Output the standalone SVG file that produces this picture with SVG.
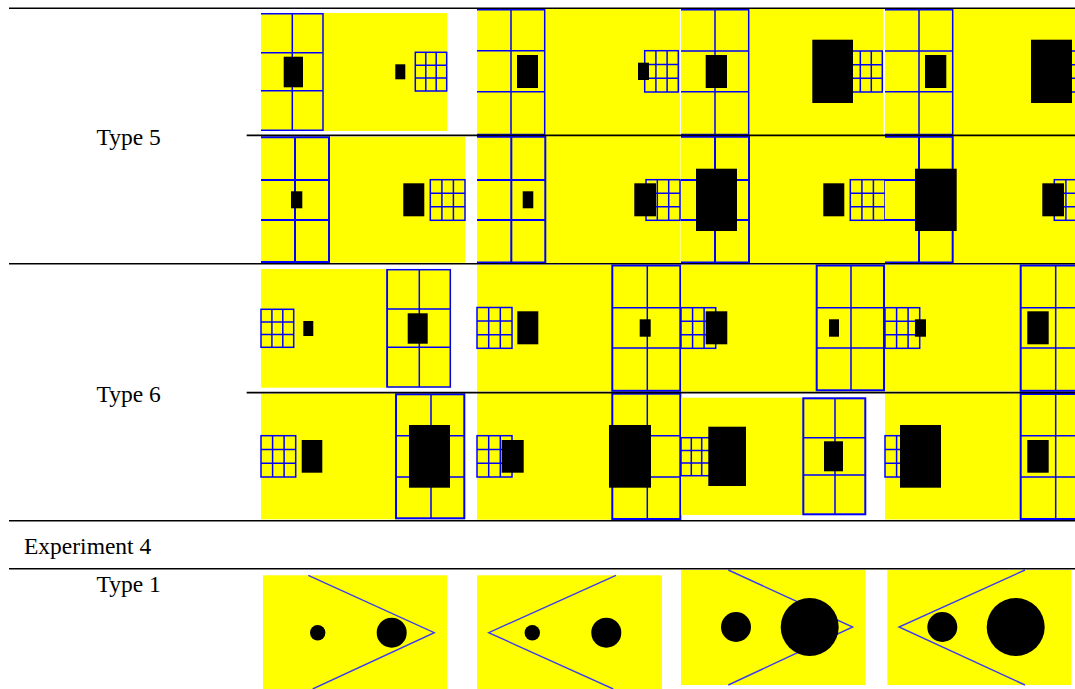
<svg xmlns="http://www.w3.org/2000/svg" width="1075" height="689" viewBox="0 0 1075 689">
<style>
.bg{fill:#ffff00}
.g{fill:none;stroke:#0000ff;stroke-width:1.5}
.gt{fill:none;stroke:#0000ff;stroke-width:2}
.k{fill:#000}
.tri{fill:none;stroke:#3c3cf0;stroke-width:1.4}
.rule{stroke:#000;stroke-width:1.6;fill:none}
.lbl{font-family:"Liberation Serif","Times New Roman",serif;font-size:23.5px;fill:#000}
</style>
<rect width="1075" height="689" fill="#fff"/>

<g id="labels">
<text class="lbl" x="96.5" y="145">Type 5</text>
<text class="lbl" x="96.5" y="401.5">Type 6</text>
<text class="lbl" x="24" y="553.5">Experiment 4</text>
<text class="lbl" x="96.5" y="591.5">Type 1</text>
</g>

<!-- Row 1 -->
<g id="cellA1">
<rect class="bg" x="261" y="13" width="186" height="118"/>
<path class="g" d="M261,13.7H323V130.2H261M292.3,13.7V130.2M261,52.7H323M261,90.7H323"/>
<rect class="g" x="415.3" y="52.3" width="31.4" height="38.7"/>
<path class="g" d="M425.8,52.3V91M436.2,52.3V91M415.3,65.2H446.7M415.3,78.1H446.7"/>
<rect class="k" x="283.7" y="56.7" width="19.3" height="30.6"/>
<rect class="k" x="395.3" y="64.3" width="10" height="15"/>
</g>
<g id="cellA2">
<rect class="bg" x="477" y="9" width="203" height="126"/>
<path class="g" d="M477,9.7H544.7V134.5H477M511,9.7V134.5M477,50.7H544.7M477,91.7H544.7"/>
<rect class="g" x="644.7" y="50.7" width="33.6" height="41.3"/>
<path class="g" d="M655.9,50.7V92M667.1,50.7V92M644.7,64.5H678.3M644.7,78.2H678.3"/>
<rect class="k" x="517" y="55" width="21" height="33"/>
<rect class="k" x="638" y="62.7" width="11" height="17.3"/>
</g>
<g id="cellA3">
<rect class="bg" x="681" y="9" width="202.3" height="126"/>
<path class="g" d="M681,9.7H748.7V134.5H681M715,9.7V134.5M681,51H748.7M681,91.7H748.7"/>
<rect class="g" x="849.3" y="51" width="33" height="41"/>
<path class="g" d="M860.3,51V92M871.3,51V92M849.3,64.7H882.3M849.3,78.3H882.3"/>
<rect class="k" x="705.7" y="55" width="21.3" height="33"/>
<rect class="k" x="812.3" y="39.7" width="40.7" height="63.3"/>
</g>
<g id="cellA4">
<rect class="bg" x="885" y="9" width="190" height="126"/>
<path class="g" d="M885,9.7H952.7V134.5H885M919,9.7V134.5M885,51H952.7M885,91.7H952.7"/>
<rect class="g" x="1068" y="51" width="33" height="41"/>
<path class="g" d="M1068,64.7H1101M1068,78.3H1101"/>
<rect class="k" x="925" y="55" width="21.3" height="33"/>
<rect class="k" x="1031" y="39.7" width="41" height="63.3"/>
</g>

<!-- Row 2 -->
<g id="cellB1">
<rect class="bg" x="261" y="136.7" width="204" height="126"/>
<path class="gt" d="M261,137.3H329V262H261M295,137.3V262M261,180H329M261,220H329"/>
<rect class="g" x="430.3" y="179.7" width="34.7" height="40.6"/>
<path class="g" d="M441.9,179.7V220.3M453.4,179.7V220.3M430.3,193.2H465M430.3,206.8H465"/>
<rect class="k" x="291" y="191.3" width="11.3" height="17"/>
<rect class="k" x="403.3" y="183.3" width="21" height="33"/>
</g>
<g id="cellB2">
<rect class="bg" x="477" y="136" width="203.5" height="127.3"/>
<path class="gt" d="M477,136.8H545.3V262.5H477M511.3,136.8V262.5M477,180H545.3M477,220H545.3"/>
<rect class="g" x="646" y="179.7" width="34" height="40.6"/>
<path class="g" d="M657.3,179.7V220.3M668.7,179.7V220.3M646,193.2H680M646,206.8H680"/>
<rect class="k" x="522.7" y="191.3" width="10.6" height="17"/>
<rect class="k" x="634.3" y="183.3" width="21.7" height="33"/>
</g>
<g id="cellB3">
<rect class="bg" x="681" y="136" width="204" height="127.3"/>
<path class="gt" d="M681,136.8H749V262.5H681M715,136.8V262.5M681,180H749M681,220H749"/>
<rect class="g" x="850.3" y="179.7" width="34.7" height="40.6"/>
<path class="g" d="M861.9,179.7V220.3M873.4,179.7V220.3M850.3,193.2H885M850.3,206.8H885"/>
<rect class="k" x="696" y="168.7" width="41" height="62.3"/>
<rect class="k" x="823.3" y="183.3" width="21" height="33"/>
</g>
<g id="cellB4">
<rect class="bg" x="885" y="136" width="190" height="127.3"/>
<path class="gt" d="M885,136.8H952.7V262.5H885M919,136.8V262.5M885,180H952.7M885,220H952.7"/>
<rect class="g" x="1054.3" y="179.7" width="34.7" height="40.6"/>
<path class="g" d="M1065.9,179.7V220.3M1054.3,193.2H1089M1054.3,206.8H1089"/>
<rect class="k" x="915" y="168.7" width="41.7" height="62.3"/>
<rect class="k" x="1042.3" y="183.3" width="21.7" height="33"/>
</g>

<!-- Row 3 -->
<g id="cellC1">
<rect class="bg" x="261" y="269" width="190" height="118.7"/>
<rect class="g" x="261" y="309.3" width="32.7" height="38"/>
<path class="g" d="M271.9,309.3V347.3M282.8,309.3V347.3M261,322H293.7M261,334.6H293.7"/>
<rect class="g" x="387" y="269.7" width="63.3" height="117.3"/>
<path class="g" d="M387.3,269.7V387M419.3,269.7V387M387,309H450.3M387,347.3H450.3"/>
<rect class="k" x="303.3" y="321" width="10" height="15"/>
<rect class="k" x="407.7" y="313.3" width="20" height="30.4"/>
</g>
<g id="cellC2">
<rect class="bg" x="477" y="265" width="203.7" height="126.5"/>
<rect class="g" x="477" y="307.5" width="35" height="40.8"/>
<path class="g" d="M488.7,307.5V348.3M500.3,307.5V348.3M477,321.1H512M477,334.7H512"/>
<rect class="k" x="517.3" y="311.3" width="21" height="33"/>
<rect class="gt" x="612.3" y="265.5" width="68" height="125.3"/>
<path class="g" d="M647.3,265.5V390.8M612.3,307.7H680.3M612.3,348H680.3"/>
<rect class="k" x="639.7" y="319.3" width="11" height="17.4"/>
</g>
<g id="cellC3">
<rect class="bg" x="681" y="265" width="203.3" height="126.5"/>
<rect class="g" x="681" y="307.7" width="34.7" height="40.6"/>
<path class="g" d="M692.6,307.7V348.3M704.1,307.7V348.3M681,321.2H715.7M681,334.8H715.7"/>
<rect class="k" x="705.7" y="311.3" width="21.6" height="33"/>
<rect class="gt" x="816.7" y="265.5" width="67.3" height="124.8"/>
<path class="g" d="M851,265.5V390.3M816.7,307.7H884M816.7,348H884"/>
<rect class="k" x="829" y="319.3" width="10" height="17.4"/>
</g>
<g id="cellC4">
<rect class="bg" x="885" y="265" width="190" height="126.5"/>
<rect class="g" x="885" y="307.7" width="34.7" height="40.6"/>
<path class="g" d="M896.6,307.7V348.3M908.1,307.7V348.3M885,321.2H919.7M885,334.8H919.7"/>
<rect class="k" x="915" y="319.3" width="11" height="17.4"/>
<rect class="gt" x="1020.7" y="265.5" width="70" height="125.3"/>
<path class="g" d="M1055.7,265.5V390.8M1020.7,307.7H1090.7M1020.7,348H1090.7"/>
<rect class="k" x="1027.3" y="311.3" width="21.4" height="33"/>
</g>

<!-- Row 4 -->
<g id="cellD1">
<rect class="bg" x="261" y="393.7" width="204" height="125.6"/>
<rect class="g" x="261" y="435.7" width="34.7" height="41.3"/>
<path class="g" d="M272.6,435.7V477M284.1,435.7V477M261,449.5H295.7M261,463.2H295.7"/>
<rect class="k" x="301.7" y="440" width="20.6" height="32.7"/>
<rect class="gt" x="396" y="394.3" width="68.3" height="124"/>
<path class="g" d="M431,394.3V518.3M396,435.7H464.3M396,477H464.3"/>
<rect class="k" x="409" y="425" width="41" height="62.7"/>
</g>
<g id="cellD2">
<rect class="bg" x="477" y="393.2" width="203.7" height="126.5"/>
<rect class="g" x="477" y="435.7" width="35" height="41.3"/>
<path class="g" d="M488.7,435.7V477M500.3,435.7V477M477,449.5H512M477,463.2H512"/>
<rect class="k" x="501.7" y="440" width="22" height="32.7"/>
<rect class="gt" x="612.3" y="393.7" width="68" height="125.3"/>
<path class="g" d="M647.3,393.7V519M612.3,435.7H680.3M612.3,477H680.3"/>
<rect class="k" x="609" y="425" width="42" height="62.7"/>
</g>
<g id="cellD3">
<rect class="bg" x="681" y="397.7" width="184.7" height="117.3"/>
<rect class="g" x="681" y="437.7" width="31" height="38"/>
<path class="g" d="M691.3,437.7V475.7M701.7,437.7V475.7M681,450.4H712M681,463H712"/>
<rect class="k" x="708.3" y="426.7" width="37.7" height="59.3"/>
<rect class="gt" x="803.3" y="398.3" width="62" height="116"/>
<path class="g" d="M835,398.3V514.3M803.3,437.7H865.3M803.3,475H865.3"/>
<rect class="k" x="824" y="441.3" width="19" height="30"/>
</g>
<g id="cellD4">
<rect class="bg" x="885" y="393.5" width="190" height="126"/>
<rect class="g" x="885" y="435.7" width="34.7" height="41.3"/>
<path class="g" d="M896.6,435.7V477M885,449.5H919.7M885,463.2H919.7"/>
<rect class="k" x="900" y="425" width="41" height="62.7"/>
<rect class="gt" x="1020.7" y="394" width="70" height="125"/>
<path class="g" d="M1055.7,394V519M1020.7,435.7H1090.7M1020.7,477H1090.7"/>
<rect class="k" x="1027.3" y="440" width="21.4" height="32.7"/>
</g>

<!-- Row 5 -->
<g id="cellE1">
<rect class="bg" x="263" y="575.3" width="184" height="113.7"/>
<polyline class="tri" points="308.3,575.3 434.3,632.7 312.7,689"/>
<circle class="k" cx="317.7" cy="632.7" r="7.7"/>
<circle class="k" cx="391.7" cy="632.7" r="15"/>
</g>
<g id="cellE2">
<rect class="bg" x="477" y="575.3" width="185" height="113.7"/>
<polyline class="tri" points="616,575.3 488.7,632.7 613.3,689"/>
<circle class="k" cx="532.3" cy="632.7" r="7.7"/>
<circle class="k" cx="606.3" cy="632.7" r="15"/>
</g>
<g id="cellE3">
<rect class="bg" x="681" y="570" width="184.7" height="115"/>
<polyline class="tri" points="728.3,570 852.7,627 728.3,685"/>
<circle class="k" cx="736" cy="627" r="15"/>
<circle class="k" cx="809.7" cy="627" r="29"/>
</g>
<g id="cellE4">
<rect class="bg" x="887.3" y="570" width="183.7" height="115"/>
<polyline class="tri" points="1025,570 899,627 1025,685"/>
<circle class="k" cx="942.3" cy="627" r="15"/>
<circle class="k" cx="1015.7" cy="627" r="29"/>
</g>

<g id="connectors">
<path class="rule" d="M9,8.2H1075M246.7,135.4H1075M9,263.8H1075M246.7,392.6H1075M9,520.7H1075M9,568.7H1075"/>
</g>
</svg>
